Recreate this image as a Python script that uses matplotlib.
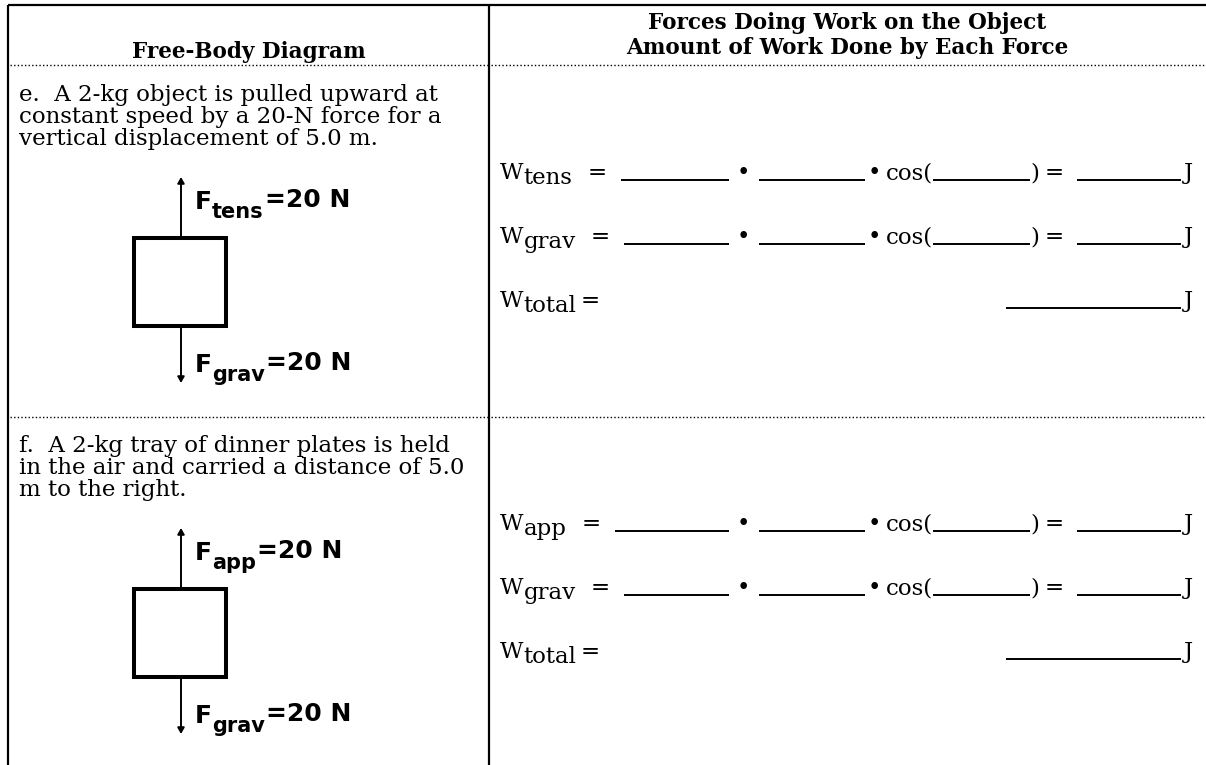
import matplotlib
matplotlib.use("Agg")
import matplotlib.pyplot as plt
from matplotlib.patches import Rectangle

# ---- worksheet content ----
col_headers_left = "Free-Body Diagram"
col_headers_right = ["Forces Doing Work on the Object",
                     "Amount of Work Done by Each Force"]

prompt_lines = [
    ["e.  A 2-kg object is pulled upward at",
     "constant speed by a 20-N force for a",
     "vertical displacement of 5.0 m."],
    ["f.  A 2-kg tray of dinner plates is held",
     "in the air and carried a distance of 5.0",
     "m to the right."],
]
up_forces = ["tens", "app"]
down_forces = ["grav", "grav"]
up_newtons = [20, 20]
down_newtons = [20, 20]
work_terms = [["tens", "grav"], ["app", "grav"]]
total_label = "total"
unit = "J"

# ---- layout (pixels, y downward) ----
W, H = 1206, 765
LEFT, TOP, DIVIDER = 8, 5, 489
SECTION_Y = [0, 351]
SERIF = "DejaVu Serif"
SANS = "DejaVu Sans"

fig = plt.figure(figsize=(W / 100, H / 100), dpi=100)
ax = fig.add_axes([0, 0, 1, 1])
ax.set_xlim(0, W)
ax.set_ylim(H, 0)
ax.axis("off")
renderer = fig.canvas.get_renderer()


def put(x, y, s, **kw):
    kw.setdefault("va", "baseline")
    return ax.text(x, y, s, color="black", **kw)


def right_of(t):
    return t.get_window_extent(renderer).x1


def blank(x0, x1, y):
    ax.plot([x0, x1], [y, y], color="black", lw=1.4, solid_capstyle="butt")


# table frame
ax.plot([LEFT, W], [TOP, TOP], color="black", lw=1.6, solid_capstyle="butt")
ax.plot([LEFT, LEFT], [TOP, H], color="black", lw=1.6, solid_capstyle="butt")
ax.plot([DIVIDER, DIVIDER], [TOP, H], color="black", lw=1.6, solid_capstyle="butt")
for yy in [65, 417]:
    ax.plot([LEFT + 2, DIVIDER - 1], [yy, yy], color="black", lw=1.0,
            linestyle=(0, (1, 1.6)))
    ax.plot([DIVIDER + 2, W], [yy, yy], color="black", lw=1.0,
            linestyle=(0, (1, 1.6)))

# headers
head_fs = 15.5
put((LEFT + DIVIDER) / 2, 58, col_headers_left, ha="center",
    family=SERIF, fontsize=head_fs, fontweight="bold")
for i, line in enumerate(col_headers_right):
    put((DIVIDER + W) / 2, 29 + 25 * i, line, ha="center",
        family=SERIF, fontsize=head_fs, fontweight="bold")

body_fs = 16.5
eq_fs = 16.5
lab_fs = 18
sub_fs = 15

for k, dy in enumerate(SECTION_Y):
    # problem statement
    for j, line in enumerate(prompt_lines[k]):
        put(19, 101 + dy + 21.8 * j, line, family=SERIF, fontsize=body_fs)

    # free-body diagram
    ax.add_patch(Rectangle((134, 238 + dy), 92, 88, fill=False,
                           ec="black", lw=2.9, joinstyle="miter"))
    ax.annotate("", xy=(181, 177 + dy), xytext=(181, 236 + dy),
                arrowprops=dict(arrowstyle="-|>,head_length=0.35,head_width=0.2",
                                color="black", lw=1.4, shrinkA=0, shrinkB=0))
    ax.annotate("", xy=(181, 383 + dy), xytext=(181, 328 + dy),
                arrowprops=dict(arrowstyle="-|>,head_length=0.35,head_width=0.2",
                                color="black", lw=1.4, shrinkA=0, shrinkB=0))
    for name, mag, yb in [(up_forces[k], up_newtons[k], 209),
                          (down_forces[k], down_newtons[k], 372)]:
        f = put(195, yb + dy, "F", family=SANS, fontsize=lab_fs, fontweight="bold")
        s = put(right_of(f), yb + dy + 9, name, family=SANS, fontsize=sub_fs,
                fontweight="bold")
        put(right_of(s) + 1, yb + dy - 2, f"={mag} N", family=SANS,
            fontsize=lab_fs, fontweight="bold")

    # work equations
    rows_y = [179 + dy, 243 + dy, 307 + dy]
    for r, term in enumerate(work_terms[k]):
        y = rows_y[r]
        w = put(500, y, "W", family=SERIF, fontsize=eq_fs)
        s = put(right_of(w), y + 5, term, family=SERIF, fontsize=eq_fs)
        eq = put(right_of(s) + 15, y, "=", family=SERIF, fontsize=eq_fs)
        blank(right_of(eq) + 14, 729, y + 1)
        put(743, y, "\u2022", ha="center", family=SERIF, fontsize=eq_fs)
        blank(759, 865, y + 1)
        put(874, y, "\u2022", ha="center", family=SERIF, fontsize=eq_fs)
        c = put(886, y, "cos(", family=SERIF, fontsize=eq_fs)
        blank(right_of(c), 1030, y + 1)
        put(1030, y, ")", family=SERIF, fontsize=eq_fs)
        put(1045, y, "=", family=SERIF, fontsize=eq_fs)
        blank(1077, 1181, y + 1)
        put(1184, y, unit, family=SERIF, fontsize=eq_fs)

    y = rows_y[2]
    w = put(500, y, "W", family=SERIF, fontsize=eq_fs)
    s = put(right_of(w), y + 5, total_label, family=SERIF, fontsize=eq_fs)
    put(right_of(s) + 4, y, "=", family=SERIF, fontsize=eq_fs)
    blank(1006, 1181, y + 1)
    put(1184, y, unit, family=SERIF, fontsize=eq_fs)

fig.savefig("out.png", dpi=100)
